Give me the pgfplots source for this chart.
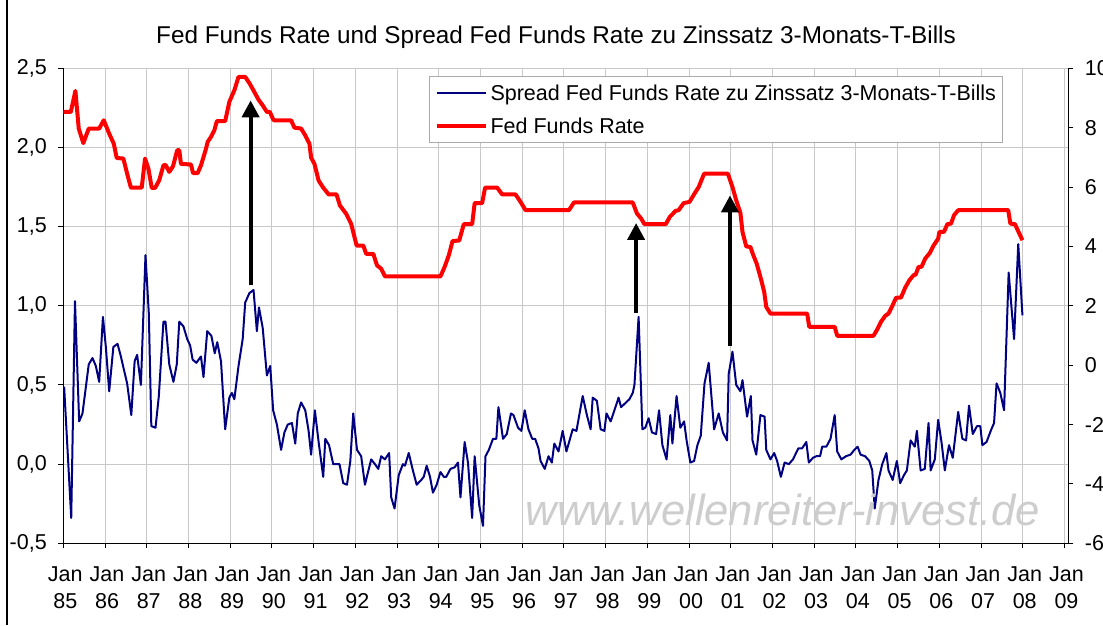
\documentclass[border=0pt]{standalone}
\usepackage{fontspec}
\setmainfont{Liberation Sans}
\usepackage{pgfplots}
\pgfplotsset{compat=1.18}
\usetikzlibrary{arrows.meta}
\definecolor{navyline}{RGB}{0,0,128}
\definecolor{gridgray}{RGB}{200,200,200}
\definecolor{wmgray}{RGB}{205,205,205}
\definecolor{leggray}{RGB}{170,170,170}
\begin{document}
\begin{tikzpicture}
\useasboundingbox (0pt,0pt) rectangle (1103pt,625pt);
\fill[white] (0pt,0pt) rectangle (1103pt,625pt);
\draw[line width=1.5pt] (7pt,0pt) -- (7pt,625pt);
\node[font=\fontsize{24.3}{28}\selectfont] at (556pt,588pt) {Fed Funds Rate und Spread Fed Funds Rate zu Zinssatz 3-Monats-T-Bills};

\begin{axis}[
  scale only axis, width=1005pt, height=475pt,
  at={(63.3pt,81.7pt)}, anchor=south west,
  xmin=1985, xmax=2009.09, ymin=-0.5, ymax=2.5,
  axis x line*=bottom, axis y line*=left,
  axis line style={line width=1.2pt, black},
  tick align=outside, major tick length=5pt,
  tick style={line width=1pt, black},
  xtick={1985,...,2009},
  xticklabels={{Jan\\[-3pt]85},{Jan\\[-3pt]86},{Jan\\[-3pt]87},{Jan\\[-3pt]88},{Jan\\[-3pt]89},{Jan\\[-3pt]90},{Jan\\[-3pt]91},{Jan\\[-3pt]92},{Jan\\[-3pt]93},{Jan\\[-3pt]94},{Jan\\[-3pt]95},{Jan\\[-3pt]96},{Jan\\[-3pt]97},{Jan\\[-3pt]98},{Jan\\[-3pt]99},{Jan\\[-3pt]00},{Jan\\[-3pt]01},{Jan\\[-3pt]02},{Jan\\[-3pt]03},{Jan\\[-3pt]04},{Jan\\[-3pt]05},{Jan\\[-3pt]06},{Jan\\[-3pt]07},{Jan\\[-3pt]08},{Jan\\[-3pt]09}},
  xticklabel style={align=center, font=\fontsize{21.5}{30}\selectfont, yshift=-15pt, xshift=2pt},
  ytick={-0.5,0,0.5,1,1.5,2,2.5},
  yticklabels={{-0,5},{0,0},{0,5},{1,0},{1,5},{2,0},{2,5}},
  yticklabel style={font=\fontsize{21.5}{24}\selectfont, xshift=-8pt},
  grid=major, grid style={gridgray, line width=1pt},
]
\addplot[navyline, line width=2pt, line join=round] coordinates {
(1985.02,0.49) (1985.19,-0.34) (1985.28,1.03) (1985.38,0.27) (1985.46,0.32) (1985.61,0.63) (1985.70,0.67) (1985.78,0.62) (1985.86,0.52) (1985.95,0.93)
(1986.02,0.74) (1986.10,0.46) (1986.20,0.74) (1986.30,0.76) (1986.38,0.68) (1986.45,0.60) (1986.53,0.51) (1986.63,0.31) (1986.71,0.65) (1986.77,0.69)
(1986.86,0.50) (1986.97,1.32) (1987.05,0.95) (1987.11,0.24) (1987.21,0.23) (1987.29,0.43) (1987.40,0.90) (1987.45,0.90) (1987.54,0.63) (1987.64,0.52)
(1987.72,0.63) (1987.78,0.90) (1987.88,0.87) (1987.97,0.79) (1988.04,0.75) (1988.10,0.66) (1988.19,0.64) (1988.30,0.68) (1988.36,0.55) (1988.45,0.84)
(1988.55,0.81) (1988.63,0.70) (1988.69,0.77) (1988.78,0.65) (1988.88,0.22) (1988.98,0.42) (1989.04,0.45) (1989.10,0.41) (1989.20,0.62) (1989.30,0.79)
(1989.36,1.02) (1989.46,1.08) (1989.56,1.10) (1989.64,0.84) (1989.69,0.99) (1989.78,0.86) (1989.88,0.56) (1989.96,0.62) (1990.03,0.34) (1990.12,0.25)
(1990.22,0.09) (1990.30,0.20) (1990.38,0.25) (1990.48,0.26) (1990.56,0.13) (1990.62,0.32) (1990.70,0.39) (1990.80,0.34) (1990.88,0.21) (1990.94,0.06)
(1991.03,0.34) (1991.12,0.14) (1991.23,-0.08) (1991.28,0.16) (1991.37,0.12) (1991.47,0.00) (1991.62,0.00) (1991.71,-0.12) (1991.80,-0.13) (1991.88,0.02)
(1991.95,0.32) (1992.04,0.09) (1992.14,0.05) (1992.23,-0.13) (1992.38,0.03) (1992.47,0.00) (1992.55,-0.03) (1992.62,0.05) (1992.71,0.03) (1992.81,0.07)
(1992.86,-0.21) (1992.94,-0.28) (1993.04,-0.07) (1993.14,0.00) (1993.19,-0.01) (1993.28,0.07) (1993.38,-0.04) (1993.47,-0.13) (1993.58,-0.10) (1993.64,-0.08)
(1993.71,-0.01) (1993.79,-0.08) (1993.86,-0.18) (1993.95,-0.13) (1994.04,-0.05) (1994.12,-0.08) (1994.18,-0.08) (1994.28,-0.03) (1994.38,-0.02) (1994.46,0.01)
(1994.52,-0.21) (1994.62,0.14) (1994.70,0.01) (1994.80,-0.34) (1994.86,0.05) (1994.97,-0.26) (1995.06,-0.39) (1995.12,0.05) (1995.20,0.09) (1995.30,0.16)
(1995.38,0.16) (1995.43,0.36) (1995.54,0.16) (1995.63,0.19) (1995.73,0.32) (1995.79,0.31) (1995.90,0.23) (1995.98,0.21) (1996.06,0.34) (1996.15,0.22)
(1996.24,0.16) (1996.31,0.16) (1996.39,0.10) (1996.44,0.02) (1996.54,-0.03) (1996.63,0.05) (1996.71,0.01) (1996.77,0.13) (1996.87,0.08) (1996.97,0.21)
(1997.06,0.08) (1997.21,0.22) (1997.30,0.21) (1997.45,0.43) (1997.55,0.31) (1997.64,0.22) (1997.69,0.42) (1997.79,0.40) (1997.88,0.22) (1997.97,0.21)
(1998.02,0.32) (1998.12,0.27) (1998.21,0.34) (1998.31,0.42) (1998.37,0.36) (1998.49,0.39) (1998.57,0.41) (1998.65,0.45) (1998.69,0.50) (1998.79,0.93)
(1998.88,0.22) (1998.95,0.23) (1999.03,0.29) (1999.11,0.20) (1999.21,0.19) (1999.28,0.34) (1999.36,0.12) (1999.46,0.03) (1999.55,0.31) (1999.60,0.13)
(1999.70,0.43) (1999.79,0.23) (1999.88,0.27) (1999.94,0.15) (2000.03,0.01) (2000.12,0.02) (2000.20,0.12) (2000.28,0.18) (2000.37,0.51) (2000.47,0.64)
(2000.60,0.22) (2000.71,0.32) (2000.81,0.20) (2000.91,0.15) (2000.95,0.57) (2001.04,0.71) (2001.13,0.50) (2001.23,0.46) (2001.28,0.53) (2001.39,0.30)
(2001.48,0.43) (2001.52,0.15) (2001.61,0.06) (2001.71,0.31) (2001.81,0.30) (2001.85,0.09) (2001.95,0.03) (2002.04,0.07) (2002.11,0.02) (2002.20,-0.08)
(2002.29,0.01) (2002.39,0.00) (2002.49,0.03) (2002.62,0.10) (2002.71,0.10) (2002.81,0.14) (2002.87,0.01) (2002.97,0.04) (2003.05,0.05) (2003.14,0.05)
(2003.19,0.11) (2003.29,0.11) (2003.39,0.16) (2003.49,0.31) (2003.55,0.08) (2003.65,0.03) (2003.76,0.05) (2003.87,0.06) (2003.96,0.09) (2004.04,0.11)
(2004.11,0.06) (2004.22,0.05) (2004.32,0.02) (2004.39,-0.04) (2004.45,-0.28) (2004.54,-0.10) (2004.63,0.00) (2004.73,0.07) (2004.78,-0.04) (2004.88,-0.10)
(2004.98,0.02) (2005.06,-0.12) (2005.15,-0.07) (2005.22,-0.04) (2005.31,0.15) (2005.41,0.11) (2005.46,0.21) (2005.55,-0.04) (2005.65,-0.03) (2005.74,0.26)
(2005.79,-0.04) (2005.89,0.03) (2005.97,0.28) (2006.05,0.14) (2006.13,-0.04) (2006.23,0.12) (2006.32,0.04) (2006.45,0.33) (2006.55,0.16) (2006.64,0.15)
(2006.71,0.37) (2006.80,0.19) (2006.90,0.24) (2006.98,0.24) (2007.03,0.12) (2007.13,0.14) (2007.23,0.21) (2007.31,0.26) (2007.37,0.51) (2007.46,0.45)
(2007.55,0.34) (2007.66,1.21) (2007.79,0.79) (2007.89,1.39) (2007.99,0.94)
};
\end{axis}

\begin{axis}[
  scale only axis, width=1005pt, height=475pt,
  at={(63.3pt,81.7pt)}, anchor=south west,
  xmin=1985, xmax=2009.09, ymin=-6, ymax=10,
  axis x line=none, axis y line*=right,
  axis line style={line width=1.2pt, black},
  tick align=outside, major tick length=5pt,
  tick style={line width=1pt, black},
  ytick={-6,-4,-2,0,2,4,6,8,10},
  yticklabels={-6,-4,-2,0,2,4,6,8,10},
  yticklabel style={font=\fontsize{21.5}{24}\selectfont, xshift=8pt},
  clip=false,
  legend cell align=left,
  legend image code/.code={\draw[#1, line cap=butt] (0pt,0pt) -- (49pt,0pt);},
  legend style={at={(0.3639,0.9838)}, anchor=north west, draw=leggray, line width=1pt, fill=white,
    font=\fontsize{21.5}{24}\selectfont, inner xsep=5pt, inner ysep=6pt, row sep=12pt,
    nodes={inner sep=2pt},
    /tikz/every odd column/.append style={column sep=1pt}},
]
\addlegendimage{navyline, line width=2pt}
\addlegendentry{Spread Fed Funds Rate zu Zinssatz 3-Monats-T-Bills}
\addplot[red, line width=4pt, line join=round] coordinates {
(1985.00,8.53) (1985.18,8.53) (1985.29,9.24) (1985.37,7.97) (1985.48,7.48) (1985.61,7.97) (1985.86,7.97) (1985.97,8.25) (1986.10,7.80) (1986.21,7.46)
(1986.28,6.98) (1986.44,6.96) (1986.53,6.45) (1986.62,5.98) (1986.88,5.98) (1986.96,6.96) (1987.04,6.62) (1987.12,5.97) (1987.20,5.97) (1987.30,6.23)
(1987.40,6.73) (1987.45,6.75) (1987.54,6.51) (1987.63,6.70) (1987.73,7.24) (1987.78,7.24) (1987.82,6.78) (1988.06,6.76) (1988.11,6.47) (1988.22,6.47)
(1988.30,6.73) (1988.41,7.24) (1988.46,7.52) (1988.54,7.69) (1988.62,7.91) (1988.68,8.22) (1988.88,8.22) (1988.98,8.87) (1989.10,9.26) (1989.20,9.71)
(1989.36,9.71) (1989.47,9.48) (1989.58,9.20) (1989.68,8.94) (1989.78,8.75) (1989.88,8.53) (1989.95,8.53) (1990.04,8.25) (1990.46,8.25) (1990.54,8.00)
(1990.70,7.97) (1990.80,7.74) (1990.90,7.46) (1990.94,6.99) (1991.02,6.78) (1991.12,6.22) (1991.22,6.00) (1991.36,5.75) (1991.55,5.75) (1991.63,5.38)
(1991.78,5.10) (1991.90,4.76) (1992.03,4.03) (1992.19,4.03) (1992.26,3.75) (1992.43,3.75) (1992.52,3.36) (1992.62,3.25) (1992.71,2.99) (1994.04,2.99)
(1994.14,3.31) (1994.24,3.70) (1994.33,4.18) (1994.49,4.20) (1994.60,4.75) (1994.80,4.75) (1994.86,5.46) (1995.04,5.46) (1995.11,5.98) (1995.40,5.98)
(1995.52,5.75) (1995.84,5.75) (1995.96,5.50) (1996.08,5.22) (1997.12,5.22) (1997.24,5.48) (1998.65,5.48) (1998.75,5.11) (1998.85,4.94) (1998.93,4.75)
(1999.44,4.75) (1999.54,5.00) (1999.68,5.20) (1999.75,5.22) (1999.87,5.46) (2000.01,5.50) (2000.13,5.78) (2000.23,6.00) (2000.36,6.45) (2000.93,6.45)
(2001.04,6.00) (2001.13,5.55) (2001.23,5.13) (2001.28,4.49) (2001.37,4.00) (2001.47,3.98) (2001.54,3.70) (2001.62,3.42) (2001.71,2.97) (2001.80,2.47)
(2001.85,1.96) (2001.95,1.74) (2002.83,1.74) (2002.88,1.29) (2003.49,1.29) (2003.55,0.99) (2004.42,0.99) (2004.50,1.18) (2004.60,1.46) (2004.70,1.66)
(2004.78,1.74) (2004.87,1.99) (2004.96,2.27) (2005.08,2.28) (2005.18,2.61) (2005.28,2.86) (2005.38,3.03) (2005.43,3.05) (2005.50,3.31) (2005.57,3.31)
(2005.66,3.59) (2005.77,3.78) (2005.86,4.03) (2005.97,4.26) (2006.00,4.49) (2006.11,4.49) (2006.19,4.75) (2006.28,4.77) (2006.35,5.05) (2006.45,5.22)
(2007.65,5.22) (2007.70,4.77) (2007.81,4.75) (2007.89,4.51) (2007.99,4.21)
};
\addlegendentry{Fed Funds Rate}
\node[font=\fontsize{43.5}{44}\selectfont\itshape, text=wmgray] at (axis cs:2002.25,-4.89) {www.wellenreiter-invest.de};
\draw[line width=4pt, -{Triangle[width=17pt,length=17pt]}] (axis cs:1989.49,2.69) -- (axis cs:1989.49,8.92);
\draw[line width=4pt, -{Triangle[width=17pt,length=17pt]}] (axis cs:1998.73,1.76) -- (axis cs:1998.73,4.79);
\draw[line width=4pt, -{Triangle[width=17pt,length=17pt]}] (axis cs:2000.98,0.64) -- (axis cs:2000.98,5.72);
\end{axis}
\end{tikzpicture}
\end{document}
